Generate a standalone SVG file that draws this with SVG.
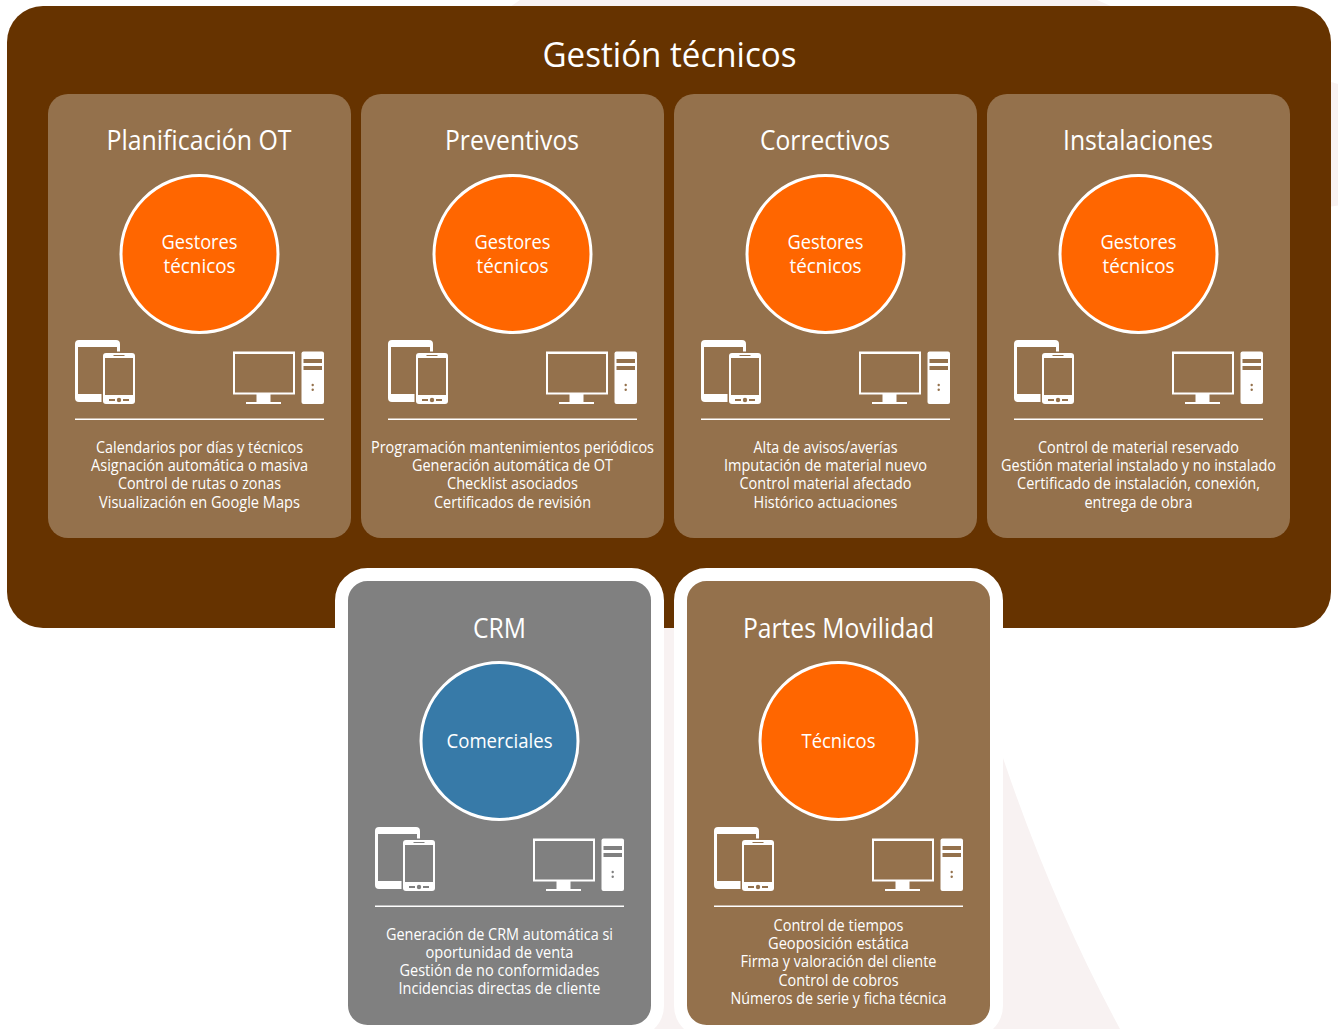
<svg xmlns="http://www.w3.org/2000/svg" xmlns:xlink="http://www.w3.org/1999/xlink" width="1338" height="1029" viewBox="0 0 1338 1029">
<style>
text{font-family:"Open Sans","Noto Sans","Liberation Sans",sans-serif;fill:#fff;text-anchor:middle}
.t{font-size:27px}.c{font-size:19.5px}.b{font-size:15.5px}
.card{fill:#94714c}
.w{fill:#fff}.k{fill:currentColor}
svg{color:#94714c}.g{color:#808080}
</style>
<defs>
<g id="icons">
<path class="w" d="M4 -1H41Q45 -1 45 3V11H42V6H3V53H30V61H4Q0 61 0 57V3Q0 -1 4 -1Z"/>
<circle class="k" cx="36" cy="57.500" r="1.500"/>
<rect class="k" x="26.500" y="10.500" width="34.500" height="54" rx="4"/>
<rect class="w" x="28" y="12" width="32" height="51" rx="3"/>
<rect class="k" x="30" y="17" width="28" height="37"/>
<rect class="k" x="38.500" y="14" width="11" height="1"/>
<rect class="k" x="34" y="58" width="6" height="2"/><rect class="k" x="48" y="58" width="6" height="2"/><circle class="k" cx="44" cy="59" r="2.200"/>
<path class="w" d="M158 10.500H220V53.500H195.500V61H206V63H171V61H181.500V53.500H158Z"/>
<rect class="k" x="160" y="13" width="58" height="38.500"/>
<rect class="w" x="226.500" y="10.500" width="22.500" height="52.500" rx="2"/>
<rect class="k" x="228.500" y="18" width="18.500" height="4"/><rect class="k" x="228.500" y="25" width="18.500" height="4"/>
<circle class="k" cx="237.700" cy="44" r="1.200"/><circle class="k" cx="237.700" cy="48.700" r="1.200"/>
<rect class="w" x="0" y="77.500" width="249" height="1.500"/>
</g>
</defs>
<g id="background" fill="#f8f2f2">
<path d="M520 0H1097L1113 7H510Z"/>
<path d="M1331 82L1338 84V205.500L1331 206.500Z"/>
<path d="M664 627H674V1000H700V1029H640V1000H664Z"/>
<path d="M1003 758Q1052 903 1120 1029H985V1000H1003Z"/>
</g>
<g id="gestion">
<rect x="7" y="6" width="1324" height="622" rx="36" fill="#663300"/>
<text x="669.500" y="67" font-size="34" textLength="254" lengthAdjust="spacingAndGlyphs">Gestión técnicos</text>
</g>
<g id="planificacion">
<rect class="card" x="48" y="94" width="303" height="444" rx="20"/>
<text class="t" x="199" y="150" textLength="185" lengthAdjust="spacingAndGlyphs">Planificación OT</text>
<circle cx="199.500" cy="254" r="78.500" fill="#f60" stroke="#fff" stroke-width="3"/>
<text class="c" x="199.500" y="249" textLength="76" lengthAdjust="spacingAndGlyphs">Gestores</text>
<text class="c" x="199.500" y="272.500" textLength="72" lengthAdjust="spacingAndGlyphs">técnicos</text>
<use xlink:href="#icons" href="#icons" x="75" y="341"/>
<text class="b" x="199.500" y="452.500" textLength="207" lengthAdjust="spacingAndGlyphs">Calendarios por días y técnicos</text>
<text class="b" x="199.500" y="470.500" textLength="217" lengthAdjust="spacingAndGlyphs">Asignación automática o masiva</text>
<text class="b" x="199.500" y="488.500" textLength="163" lengthAdjust="spacingAndGlyphs">Control de rutas o zonas</text>
<text class="b" x="199.500" y="507.500" textLength="201" lengthAdjust="spacingAndGlyphs">Visualización en Google Maps</text>
</g>
<g id="preventivos">
<rect class="card" x="361" y="94" width="303" height="444" rx="20"/>
<text class="t" x="512" y="150" textLength="134" lengthAdjust="spacingAndGlyphs">Preventivos</text>
<circle cx="512.500" cy="254" r="78.500" fill="#f60" stroke="#fff" stroke-width="3"/>
<text class="c" x="512.500" y="249" textLength="76" lengthAdjust="spacingAndGlyphs">Gestores</text>
<text class="c" x="512.500" y="272.500" textLength="72" lengthAdjust="spacingAndGlyphs">técnicos</text>
<use xlink:href="#icons" href="#icons" x="388" y="341"/>
<text class="b" x="512.500" y="452.500" textLength="283" lengthAdjust="spacingAndGlyphs">Programación mantenimientos periódicos</text>
<text class="b" x="512.500" y="470.500" textLength="201" lengthAdjust="spacingAndGlyphs">Generación automática de OT</text>
<text class="b" x="512.500" y="488.500" textLength="131" lengthAdjust="spacingAndGlyphs">Checklist asociados</text>
<text class="b" x="512.500" y="507.500" textLength="157" lengthAdjust="spacingAndGlyphs">Certificados de revisión</text>
</g>
<g id="correctivos">
<rect class="card" x="674" y="94" width="303" height="444" rx="20"/>
<text class="t" x="825" y="150" textLength="130" lengthAdjust="spacingAndGlyphs">Correctivos</text>
<circle cx="825.500" cy="254" r="78.500" fill="#f60" stroke="#fff" stroke-width="3"/>
<text class="c" x="825.500" y="249" textLength="76" lengthAdjust="spacingAndGlyphs">Gestores</text>
<text class="c" x="825.500" y="272.500" textLength="72" lengthAdjust="spacingAndGlyphs">técnicos</text>
<use xlink:href="#icons" href="#icons" x="701" y="341"/>
<text class="b" x="825.500" y="452.500" textLength="144" lengthAdjust="spacingAndGlyphs">Alta de avisos/averías</text>
<text class="b" x="825.500" y="470.500" textLength="203" lengthAdjust="spacingAndGlyphs">Imputación de material nuevo</text>
<text class="b" x="825.500" y="488.500" textLength="172" lengthAdjust="spacingAndGlyphs">Control material afectado</text>
<text class="b" x="825.500" y="507.500" textLength="144" lengthAdjust="spacingAndGlyphs">Histórico actuaciones</text>
</g>
<g id="instalaciones">
<rect class="card" x="987" y="94" width="303" height="444" rx="20"/>
<text class="t" x="1138" y="150" textLength="150" lengthAdjust="spacingAndGlyphs">Instalaciones</text>
<circle cx="1138.500" cy="254" r="78.500" fill="#f60" stroke="#fff" stroke-width="3"/>
<text class="c" x="1138.500" y="249" textLength="76" lengthAdjust="spacingAndGlyphs">Gestores</text>
<text class="c" x="1138.500" y="272.500" textLength="72" lengthAdjust="spacingAndGlyphs">técnicos</text>
<use xlink:href="#icons" href="#icons" x="1014" y="341"/>
<text class="b" x="1138.500" y="452.500" textLength="201" lengthAdjust="spacingAndGlyphs">Control de material reservado</text>
<text class="b" x="1138.500" y="470.500" textLength="275" lengthAdjust="spacingAndGlyphs">Gestión material instalado y no instalado</text>
<text class="b" x="1138.500" y="488.500" textLength="243" lengthAdjust="spacingAndGlyphs">Certificado de instalación, conexión,</text>
<text class="b" x="1138.500" y="507.500" textLength="108" lengthAdjust="spacingAndGlyphs">entrega de obra</text>
</g>
<g id="crm" class="g">
<rect x="341.500" y="574.500" width="316" height="457" rx="26" fill="#808080" stroke="#fff" stroke-width="13"/>
<text class="t" x="499.500" y="637.500" textLength="53" lengthAdjust="spacingAndGlyphs">CRM</text>
<circle cx="499.500" cy="741" r="78.500" fill="#377aa8" stroke="#fff" stroke-width="3"/>
<text class="c" x="499.500" y="748" textLength="106" lengthAdjust="spacingAndGlyphs">Comerciales</text>
<use xlink:href="#icons" href="#icons" x="375" y="828"/>
<text class="b" x="499.500" y="939.500" textLength="227" lengthAdjust="spacingAndGlyphs">Generación de CRM automática si</text>
<text class="b" x="499.500" y="958" textLength="148" lengthAdjust="spacingAndGlyphs">oportunidad de venta</text>
<text class="b" x="499.500" y="976" textLength="200" lengthAdjust="spacingAndGlyphs">Gestión de no conformidades</text>
<text class="b" x="499.500" y="994" textLength="202" lengthAdjust="spacingAndGlyphs">Incidencias directas de cliente</text>
</g>
<g id="partes">
<rect class="card" x="680.500" y="574.500" width="316" height="457" rx="26" stroke="#fff" stroke-width="13"/>
<text class="t" x="838.500" y="637.500" textLength="191" lengthAdjust="spacingAndGlyphs">Partes Movilidad</text>
<circle cx="838.500" cy="741" r="78.500" fill="#f60" stroke="#fff" stroke-width="3"/>
<text class="c" x="838.500" y="748" textLength="74" lengthAdjust="spacingAndGlyphs">Técnicos</text>
<use xlink:href="#icons" href="#icons" x="714" y="828"/>
<text class="b" x="838.500" y="930.500" textLength="130" lengthAdjust="spacingAndGlyphs">Control de tiempos</text>
<text class="b" x="838.500" y="948.500" textLength="141" lengthAdjust="spacingAndGlyphs">Geoposición estática</text>
<text class="b" x="838.500" y="966.500" textLength="196" lengthAdjust="spacingAndGlyphs">Firma y valoración del cliente</text>
<text class="b" x="838.500" y="985.500" textLength="120" lengthAdjust="spacingAndGlyphs">Control de cobros</text>
<text class="b" x="838.500" y="1003.500" textLength="216" lengthAdjust="spacingAndGlyphs">Números de serie y ficha técnica</text>
</g>
<g id="connectors"/>
</svg>
